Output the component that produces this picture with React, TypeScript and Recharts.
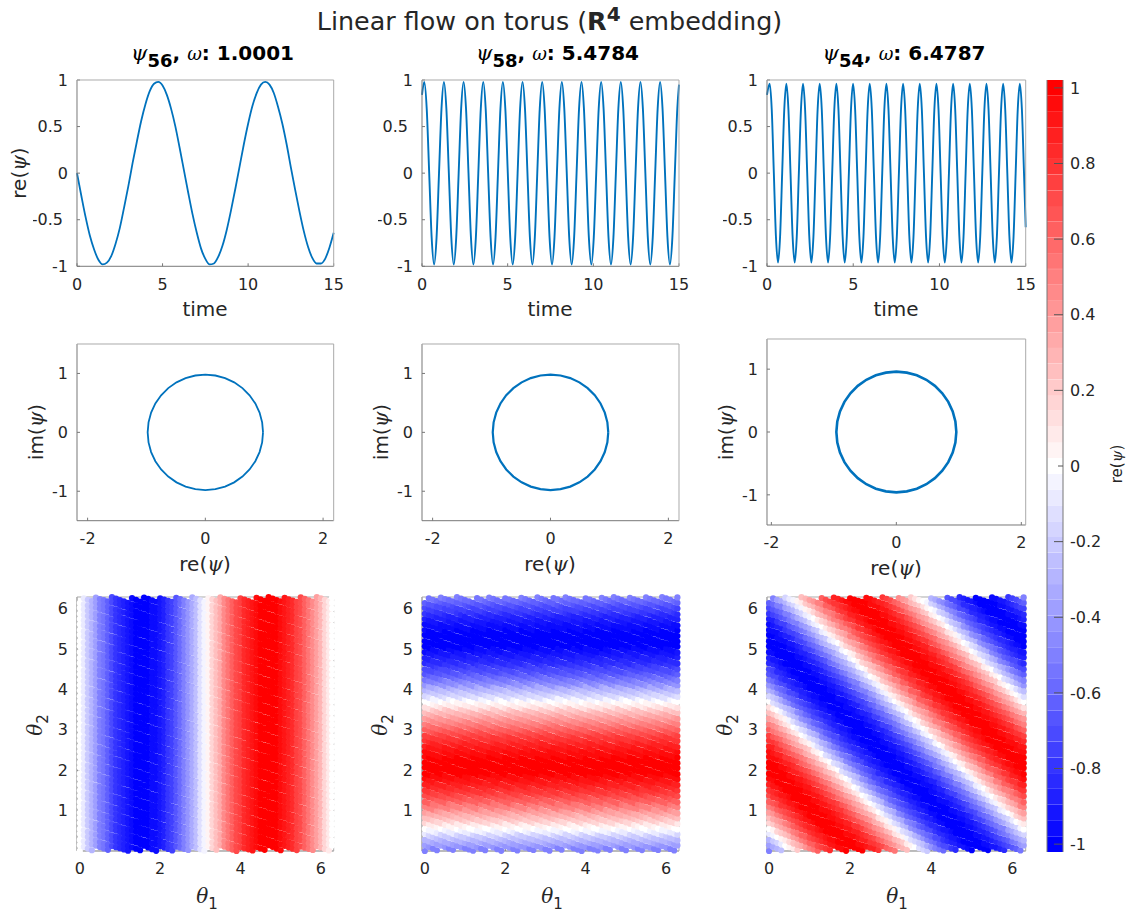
import React from "react";
import { LineChart, Line, ScatterChart, Scatter, ComposedChart, XAxis, YAxis, ReferenceArea } from "recharts";

// top row: time series
const time56 = [0, 0.25, 0.5, 0.75, 1, 1.25, 1.5, 1.75, 2, 2.25, 2.5, 2.75, 3, 3.25, 3.5, 3.75, 4, 4.25, 4.5, 4.75, 5, 5.25, 5.5, 5.75, 6, 6.25, 6.5, 6.75, 7, 7.25, 7.5, 7.75, 8, 8.25, 8.5, 8.75, 9, 9.25, 9.5, 9.75, 10, 10.25, 10.5, 10.75, 11, 11.25, 11.5, 11.75, 12, 12.25, 12.5, 12.75, 13, 13.25, 13.5, 13.75, 14, 14.25, 14.5, 14.75, 15];
const re56 = [0, -0.24, -0.47, -0.67, -0.82, -0.93, -0.98, -0.96, -0.89, -0.76, -0.59, -0.37, -0.14, 0.11, 0.34, 0.56, 0.74, 0.88, 0.96, 0.98, 0.94, 0.84, 0.69, 0.5, 0.27, 0.03, -0.21, -0.44, -0.64, -0.81, -0.92, -0.98, -0.97, -0.9, -0.78, -0.61, -0.4, -0.17, 0.07, 0.31, 0.53, 0.72, 0.86, 0.95, 0.98, 0.95, 0.86, 0.71, 0.53, 0.31, 0.06, -0.18, -0.41, -0.62, -0.79, -0.91, -0.97, -0.97, -0.92, -0.8, -0.64];

const time58 = [
  0, 0.133, 0.276, 0.42, 0.563, 0.707, 0.85, 0.993, 1.137,
  1.28, 1.423, 1.567, 1.71, 1.854, 1.997, 2.14, 2.284,
  2.427, 2.57, 2.714, 2.857, 3.001, 3.144, 3.287, 3.431,
  3.574, 3.717, 3.861, 4.004, 4.148, 4.291, 4.434, 4.578,
  4.721, 4.864, 5.008, 5.151, 5.295, 5.438, 5.581, 5.725,
  5.868, 6.011, 6.155, 6.298, 6.442, 6.585, 6.728, 6.872,
  7.015, 7.158, 7.302, 7.445, 7.589, 7.732, 7.875, 8.019,
  8.162, 8.305, 8.449, 8.592, 8.736, 8.879, 9.022, 9.166,
  9.309, 9.452, 9.596, 9.739, 9.883, 10.026, 10.169, 10.313,
  10.456, 10.599, 10.743, 10.886, 11.03, 11.173, 11.316, 11.46,
  11.603, 11.746, 11.89, 12.033, 12.177, 12.32, 12.463, 12.607,
  12.75, 12.893, 13.037, 13.18, 13.324, 13.467, 13.61, 13.754,
  13.897, 14.04, 14.184, 14.327, 14.471, 14.614, 14.757, 14.901, 15,
];
const re58 = [
  0.84, 0.98, 0.69, 0, -0.69, -0.98, -0.69, 0, 0.69,
  0.98, 0.69, 0, -0.69, -0.98, -0.69, 0, 0.69,
  0.98, 0.69, 0, -0.69, -0.98, -0.69, 0, 0.69,
  0.98, 0.69, 0, -0.69, -0.98, -0.69, 0, 0.69,
  0.98, 0.69, 0, -0.69, -0.98, -0.69, 0, 0.69,
  0.98, 0.69, 0, -0.69, -0.98, -0.69, 0, 0.69,
  0.98, 0.69, 0, -0.69, -0.98, -0.69, 0, 0.69,
  0.98, 0.69, 0, -0.69, -0.98, -0.69, 0, 0.69,
  0.98, 0.69, 0, -0.69, -0.98, -0.69, 0, 0.69,
  0.98, 0.69, 0, -0.69, -0.98, -0.69, 0, 0.69,
  0.98, 0.69, 0, -0.69, -0.98, -0.69, 0, 0.69,
  0.98, 0.69, 0, -0.69, -0.98, -0.69, 0, 0.69,
  0.98, 0.69, 0, -0.69, -0.98, -0.69, 0, 0.69, 0.95,
];

const time54 = [
  0, 0.155, 0.276, 0.397, 0.518, 0.639, 0.759, 0.88, 1.001,
  1.122, 1.243, 1.364, 1.485, 1.606, 1.726, 1.847, 1.968,
  2.089, 2.21, 2.331, 2.452, 2.573, 2.693, 2.814, 2.935,
  3.056, 3.177, 3.298, 3.419, 3.54, 3.66, 3.781, 3.902,
  4.023, 4.144, 4.265, 4.386, 4.507, 4.627, 4.748, 4.869,
  4.99, 5.111, 5.232, 5.353, 5.474, 5.594, 5.715, 5.836,
  5.957, 6.078, 6.199, 6.32, 6.441, 6.561, 6.682, 6.803,
  6.924, 7.045, 7.166, 7.287, 7.408, 7.528, 7.649, 7.77,
  7.891, 8.012, 8.133, 8.254, 8.375, 8.495, 8.616, 8.737,
  8.858, 8.979, 9.1, 9.221, 9.342, 9.462, 9.583, 9.704,
  9.825, 9.946, 10.067, 10.188, 10.309, 10.429, 10.55, 10.671,
  10.792, 10.913, 11.034, 11.155, 11.276, 11.396, 11.517, 11.638,
  11.759, 11.88, 12.001, 12.122, 12.243, 12.363, 12.484, 12.605,
  12.726, 12.847, 12.968, 13.089, 13.21, 13.33, 13.451, 13.572,
  13.693, 13.814, 13.935, 14.056, 14.177, 14.297, 14.418, 14.539,
  14.66, 14.781, 14.902, 15,
];
const re54 = [
  0.84, 0.96, 0.68, 0, -0.68, -0.96, -0.68, 0, 0.68,
  0.96, 0.68, 0, -0.68, -0.96, -0.68, 0, 0.68,
  0.96, 0.68, 0, -0.68, -0.96, -0.68, 0, 0.68,
  0.96, 0.68, 0, -0.68, -0.96, -0.68, 0, 0.68,
  0.96, 0.68, 0, -0.68, -0.96, -0.68, 0, 0.68,
  0.96, 0.68, 0, -0.68, -0.96, -0.68, 0, 0.68,
  0.96, 0.68, 0, -0.68, -0.96, -0.68, 0, 0.68,
  0.96, 0.68, 0, -0.68, -0.96, -0.68, 0, 0.68,
  0.96, 0.68, 0, -0.68, -0.96, -0.68, 0, 0.68,
  0.96, 0.68, 0, -0.68, -0.96, -0.68, 0, 0.68,
  0.96, 0.68, 0, -0.68, -0.96, -0.68, 0, 0.68,
  0.96, 0.68, 0, -0.68, -0.96, -0.68, 0, 0.68,
  0.96, 0.68, 0, -0.68, -0.96, -0.68, 0, 0.68,
  0.96, 0.68, 0, -0.68, -0.96, -0.68, 0, 0.68,
  0.96, 0.68, 0, -0.68, -0.96, -0.68, 0, 0.68,
  0.96, 0.68, 0, -0.58,
];

// middle row: closed loops
const loopRe98 = [0.98, 0.965, 0.921, 0.849, 0.751, 0.63, 0.49, 0.335, 0.17, 0, -0.17, -0.335, -0.49, -0.63, -0.751, -0.849, -0.921, -0.965, -0.98, -0.965, -0.921, -0.849, -0.751, -0.63, -0.49, -0.335, -0.17, 0, 0.17, 0.335, 0.49, 0.63, 0.751, 0.849, 0.921, 0.965, 0.98];
const loopIm98 = [0, 0.17, 0.335, 0.49, 0.63, 0.751, 0.849, 0.921, 0.965, 0.98, 0.965, 0.921, 0.849, 0.751, 0.63, 0.49, 0.335, 0.17, 0, -0.17, -0.335, -0.49, -0.63, -0.751, -0.849, -0.921, -0.965, -0.98, -0.965, -0.921, -0.849, -0.751, -0.63, -0.49, -0.335, -0.17, 0];
const loopRe96 = [0.96, 0.945, 0.902, 0.831, 0.735, 0.617, 0.48, 0.328, 0.167, 0, -0.167, -0.328, -0.48, -0.617, -0.735, -0.831, -0.902, -0.945, -0.96, -0.945, -0.902, -0.831, -0.735, -0.617, -0.48, -0.328, -0.167, 0, 0.167, 0.328, 0.48, 0.617, 0.735, 0.831, 0.902, 0.945, 0.96];
const loopIm96 = [0, 0.167, 0.328, 0.48, 0.617, 0.735, 0.831, 0.902, 0.945, 0.96, 0.945, 0.902, 0.831, 0.735, 0.617, 0.48, 0.328, 0.167, 0, -0.167, -0.328, -0.48, -0.617, -0.735, -0.831, -0.902, -0.945, -0.96, -0.945, -0.902, -0.831, -0.735, -0.617, -0.48, -0.328, -0.167, 0];

// bottom row: sample lattice on the torus and the colour profiles read along it
const theta1Samples = [0, 0.1, 0.2, 0.3, 0.4, 0.5, 0.6, 0.7, 0.8, 0.9, 1, 1.1, 1.2, 1.3, 1.4, 1.5, 1.6, 1.7, 1.8, 1.9, 2, 2.1, 2.2, 2.3, 2.4, 2.5, 2.6, 2.7, 2.8, 2.9, 3, 3.1, 3.2, 3.3, 3.4, 3.5, 3.6, 3.7, 3.8, 3.9, 4, 4.1, 4.2, 4.3, 4.4, 4.5, 4.6, 4.7, 4.8, 4.9, 5, 5.1, 5.2, 5.3, 5.4, 5.5, 5.6, 5.7, 5.8, 5.9, 6, 6.1, 6.2, 6.28];
const theta2Samples = [0, 0.137, 0.273, 0.41, 0.546, 0.683, 0.82, 0.956, 1.093, 1.229, 1.366, 1.503, 1.639, 1.776, 1.912, 2.049, 2.185, 2.322, 2.459, 2.595, 2.732, 2.868, 3.005, 3.142, 3.278, 3.415, 3.551, 3.688, 3.825, 3.961, 4.098, 4.234, 4.371, 4.508, 4.644, 4.781, 4.917, 5.054, 5.19, 5.327, 5.464, 5.6, 5.737, 5.873, 6.01, 6.147];
const rowDrop = 0.35; // the dotted rows fall this much in theta2 per unit of theta1
const rowWobble = [0, 0.008, 0.014, 0.016, 0.014, 0.008, 0, -0.008, -0.014, -0.016, -0.014, -0.008]; // uneven row gaps, gives the short white slashes
const columnProfile = [0, -0.1, -0.2, -0.3, -0.39, -0.48, -0.56, -0.64, -0.72, -0.78, -0.84, -0.89, -0.93, -0.96, -0.99, -1, -1, -0.99, -0.97, -0.95, -0.91, -0.86, -0.81, -0.75, -0.68, -0.6, -0.52, -0.43, -0.33, -0.24, -0.14, -0.04, 0.06, 0.16, 0.26, 0.35, 0.44, 0.53, 0.61, 0.69, 0.76, 0.82, 0.87, 0.92, 0.95, 0.98, 0.99, 1, 1, 0.98, 0.96, 0.93, 0.88, 0.83, 0.77, 0.71, 0.63, 0.55, 0.46, 0.37, 0.28, 0.18, 0.08, 0];
const bandProfile = [-0.52, -0.48, -0.43, -0.39, -0.34, -0.3, -0.25, -0.2, -0.15, -0.1, -0.05, 0, 0.05, 0.1, 0.15, 0.2, 0.25, 0.3, 0.34, 0.39, 0.43, 0.48, 0.52, 0.56, 0.61, 0.64, 0.68, 0.72, 0.75, 0.78, 0.81, 0.84, 0.87, 0.89, 0.91, 0.93, 0.95, 0.96, 0.98, 0.99, 0.99, 1, 1, 1, 1, 0.99, 0.98, 0.97, 0.96, 0.95, 0.93, 0.91, 0.89, 0.86, 0.84, 0.81, 0.78, 0.75, 0.71, 0.68, 0.64, 0.6, 0.56, 0.52, 0.47, 0.43, 0.38, 0.33, 0.29, 0.24, 0.19, 0.14, 0.09, 0.04, -0.01, -0.06, -0.11, -0.16, -0.21, -0.26, -0.3, -0.35, -0.4, -0.44, -0.49, -0.53, -0.57, -0.61, -0.65, -0.69, -0.72, -0.76, -0.79, -0.82, -0.85, -0.87, -0.89, -0.92, -0.93, -0.95, -0.97, -0.98, -0.99, -0.99, -1, -1, -1, -1, -0.99, -0.98, -0.97, -0.96, -0.94, -0.93, -0.91, -0.88, -0.86, -0.83, -0.8, -0.77, -0.74, -0.71, -0.67, -0.63, -0.59, -0.55];

// colour bar
const colorLevels = [-1, -0.958, -0.917, -0.875, -0.833, -0.792, -0.75, -0.708, -0.667, -0.625, -0.583, -0.542, -0.5, -0.458, -0.417, -0.375, -0.333, -0.292, -0.25, -0.208, -0.167, -0.125, -0.083, -0.042, 0, 0.042, 0.083, 0.125, 0.167, 0.208, 0.25, 0.292, 0.333, 0.375, 0.417, 0.458, 0.5, 0.542, 0.583, 0.625, 0.667, 0.708, 0.75, 0.792, 0.833, 0.875, 0.917, 0.958, 1];
const colorTicks = [-1, -0.8, -0.6, -0.4, -0.2, 0, 0.2, 0.4, 0.6, 0.8, 1];

const timeTicks = [0, 5, 10, 15];
const reTicks = [-1, -0.5, 0, 0.5, 1];
const loopXTicks = [-2, 0, 2];
const loopYTicks = [-1, 0, 1];
const theta1Ticks = [0, 2, 4, 6];
const theta2Ticks = [1, 2, 3, 4, 5, 6];

const BLUE = "#0072BD";
const INK = "#262626";
const FONT = "'DejaVu Sans', sans-serif";
const MATH = "'DejaVu Serif', serif";
const TWO_PI = 6.2832;

const levelColor = (v: number) => {
  const q = Math.round(v * 24) / 24;
  const c = Math.round(255 * (1 - Math.abs(q)));
  return q >= 0 ? `rgb(255,${c},${c})` : `rgb(${c},${c},255)`;
};

const series = (xs: number[], ys: number[]) => xs.map((x, i) => ({ x, y: ys[i] }));

const latticeWith = (valueAt: (i: number, theta1: number, theta2: number) => number) =>
  theta1Samples.flatMap((theta1, i) =>
    theta2Samples.map((row, j) => {
      const wobble = j % 2 ? rowWobble[(i + j * 5) % rowWobble.length] : 0;
      let theta2 = row + wobble - rowDrop * theta1;
      if (theta2 < 0) theta2 += TWO_PI;
      return { x: theta1, y: theta2, v: valueAt(i, theta1, theta2) };
    })
  );
const bandAt = (theta: number) => {
  const n = bandProfile.length;
  return bandProfile[Math.round(((theta % TWO_PI) / TWO_PI) * n) % n];
};

const data56 = series(time56, re56);
const data58 = series(time58, re58);
const data54 = series(time54, re54);
const loop98 = series(loopRe98, loopIm98);
const loop96 = series(loopRe96, loopIm96);
const field56 = latticeWith((i) => columnProfile[i]);
const field58 = latticeWith((_i, _a, b) => bandAt(b));
const field54 = latticeWith((_i, a, b) => bandAt(a + b));

const PAD = { left: 44, top: 12, right: 12, bottom: 32 };
const tickStyle = { fontSize: 16, fill: INK, fontFamily: FONT };

type Box = { left: number; top: number; w: number; h: number };

const chartProps = (b: Box) => ({
  width: b.w + PAD.left + PAD.right,
  height: b.h + PAD.top + PAD.bottom,
  margin: { top: PAD.top - 1, right: PAD.right - 1, bottom: 0, left: 0 },
});
const place = (b: Box): React.CSSProperties => ({ position: "absolute", left: b.left - PAD.left, top: b.top - PAD.top });

// fractional labels sit a little further from the axis in the reference
const YTick = (p: any) => (
  <text x={Number.isInteger(p.payload.value) ? p.x : p.x - 5} y={p.y} dy="0.36em" textAnchor="end" {...tickStyle}>
    {p.payload.value}
  </text>
);

// MATLAB style box: labelled axes bottom/left, bare ones top/right, ticks pointing in
const boxAxes = (xd: number[], yd: number[], xt: number[], yt: number[]) => [
  <XAxis key="b" xAxisId="b" dataKey="x" type="number" domain={xd} ticks={xt} interval={0} height={PAD.bottom} tickSize={-3} tickMargin={15} tick={tickStyle} stroke="#777" />,
  <YAxis key="l" yAxisId="l" dataKey="y" type="number" domain={yd} ticks={yt} interval={0} width={PAD.left} tickSize={-3} tickMargin={12} tick={YTick} stroke="#777" />,
  <XAxis key="t" xAxisId="t" dataKey="x" orientation="top" type="number" domain={xd} ticks={xt} interval={0} height={1} tickSize={-3} tick={false} stroke="#aaa" />,
  <YAxis key="r" yAxisId="r" dataKey="y" orientation="right" type="number" domain={yd} ticks={yt} interval={0} width={1} tickSize={-3} tick={false} stroke="#aaa" />,
];

function TracePanel({ box, data, xd, yd, xt, yt, sw, curve }: any) {
  return (
    <div style={place(box)}>
      <LineChart {...chartProps(box)} data={data}>
        {boxAxes(xd, yd, xt, yt)}
        <Line xAxisId="t" yAxisId="r" dataKey="y" type="linear" stroke="none" dot={false} isAnimationActive={false} />
        <Line xAxisId="b" yAxisId="l" dataKey="y" type={curve} stroke={BLUE} strokeWidth={sw} dot={false} isAnimationActive={false} />
      </LineChart>
    </div>
  );
}

const dotShape = (p: any) => <circle cx={p.cx} cy={p.cy} r={3.1} fill={levelColor(p.payload.v)} />;

function FieldPanel({ box, data, xd }: any) {
  return (
    <div style={place(box)}>
      <ScatterChart {...chartProps(box)}>
        {boxAxes(xd, [0, 6.27], theta1Ticks, theta2Ticks)}
        <Scatter xAxisId="b" yAxisId="l" data={data} dataKey="y" shape={dotShape} isAnimationActive={false} />
      </ScatterChart>
    </div>
  );
}

function ColorBar() {
  const top = 79.5;
  const h = 772;
  return (
    <div style={{ position: "absolute", left: 1046, top: top - 5 }}>
      <ComposedChart width={66} height={h + 10} margin={{ top: 5, right: 48, bottom: 5, left: 0 }} data={[{ x: 0.5, y: 0 }]}>
        <XAxis xAxisId="b" dataKey="x" type="number" domain={[0, 1]} hide />
        <YAxis yAxisId="l" dataKey="y" type="number" domain={[-1.0208, 1.0208]} width={1} tick={false} tickLine={false} stroke="#777" />
        <YAxis yAxisId="c" dataKey="y" orientation="right" type="number" domain={[-1.0208, 1.0208]} ticks={colorTicks} interval={0} width={1} tickSize={-9} tickMargin={16} tick={tickStyle} tickLine={{ stroke: "#555" }} stroke="#777" />
        <Line xAxisId="b" yAxisId="c" dataKey="y" stroke="none" dot={false} isAnimationActive={false} />
        <Line xAxisId="b" yAxisId="l" dataKey="y" stroke="none" dot={false} isAnimationActive={false} />
        {colorLevels.map((v) => (
          <ReferenceArea key={v} xAxisId="b" yAxisId="c" y1={v - 0.0208} y2={v + 0.0208} fill={levelColor(v)} fillOpacity={1} stroke="none" ifOverflow="visible" />
        ))}
      </ComposedChart>
    </div>
  );
}

const Psi = () => <tspan fontFamily={MATH} fontStyle="italic">ψ</tspan>;

function Heading({ x, id, omega }: { x: number; id: string; omega: string }) {
  return (
    <text x={x} y={60} textAnchor="middle" fontFamily={FONT} fontWeight="bold" fontSize={20} fill="#000">
      <tspan fontFamily={MATH} fontStyle="italic" fontWeight="normal" fontSize={21}>ψ</tspan>
      <tspan dy={7} fontSize={18}>{id}</tspan>
      <tspan dy={-7}>, </tspan>
      <tspan fontFamily={MATH} fontStyle="italic" fontWeight="normal" fontSize={18}>ω</tspan>
      <tspan>: {omega}</tspan>
    </text>
  );
}

function AxisText({ x, y, up, children, size = 20 }: any) {
  return (
    <text x={x} y={y} textAnchor="middle" fontFamily={FONT} fontSize={size} fill={INK} transform={up ? `rotate(-90 ${x} ${y})` : undefined}>
      {children}
    </text>
  );
}

const Theta = ({ n }: { n: number }) => (
  <>
    <tspan fontFamily={MATH} fontStyle="italic">θ</tspan>
    <tspan dy={6} fontSize={15}>{n}</tspan>
  </>
);

const col1 = { left: 77.3, w: 256.7 };
const col2 = { left: 422.3, w: 257 };
const col3 = { left: 767.3, w: 258.7 };

export default function App() {
  const row1 = { top: 80, h: 186.3 };
  const row2 = { top: 344.3, h: 176.7 };
  const row2c = { top: 339, h: 186 };
  const row3 = { top: 597, h: 254 };
  return (
    <div style={{ position: "absolute", left: 0, top: 0, width: 1126, height: 916, background: "#fff", overflow: "hidden" }}>
      <TracePanel box={{ ...col1, ...row1 }} data={data56} xd={[0, 15]} yd={[-1, 1]} xt={timeTicks} yt={reTicks} sw={1.8} curve="monotoneX" />
      <TracePanel box={{ ...col2, ...row1 }} data={data58} xd={[0, 15]} yd={[-1, 1]} xt={timeTicks} yt={reTicks} sw={1.9} curve="monotoneX" />
      <TracePanel box={{ ...col3, ...row1 }} data={data54} xd={[0, 15]} yd={[-1, 1]} xt={timeTicks} yt={reTicks} sw={1.9} curve="monotoneX" />

      <TracePanel box={{ ...col1, ...row2 }} data={loop98} xd={[-2.18, 2.18]} yd={[-1.5, 1.5]} xt={loopXTicks} yt={loopYTicks} sw={1.8} curve="linear" />
      <TracePanel box={{ ...col2, ...row2 }} data={loop98} xd={[-2.18, 2.18]} yd={[-1.5, 1.5]} xt={loopXTicks} yt={loopYTicks} sw={2.2} curve="linear" />
      <TracePanel box={{ ...col3, ...row2c }} data={loop96} xd={[-2.07, 2.07]} yd={[-1.48, 1.48]} xt={loopXTicks} yt={loopYTicks} sw={2.6} curve="linear" />

      <FieldPanel box={{ ...col1, ...row3 }} data={field56} xd={[-0.07, 6.32]} />
      <FieldPanel box={{ ...col2, ...row3 }} data={field58} xd={[-0.07, 6.32]} />
      <FieldPanel box={{ ...col3, ...row3 }} data={field54} xd={[-0.05, 6.33]} />

      <ColorBar />

      <svg width={1126} height={916} style={{ position: "absolute", left: 0, top: 0, pointerEvents: "none" }}>
        <text x={549.5} y={30} textAnchor="middle" fontFamily={FONT} fontSize={25.4} fill={INK}>
          Linear flow on torus (<tspan fontWeight="bold">R</tspan>
          <tspan dy={-9} fontSize={20} fontWeight="bold">4</tspan>
          <tspan dy={9}> embedding)</tspan>
        </text>
        <Heading x={212.5} id="56" omega="1.0001" />
        <Heading x={557.5} id="58" omega="5.4784" />
        <Heading x={904} id="54" omega="6.4787" />

        <AxisText x={26} y={173} up>re(<Psi />)</AxisText>
        <AxisText x={205} y={316}>time</AxisText>
        <AxisText x={550} y={316}>time</AxisText>
        <AxisText x={896} y={316}>time</AxisText>

        <AxisText x={43} y={432} up>im(<Psi />)</AxisText>
        <AxisText x={388} y={432} up>im(<Psi />)</AxisText>
        <AxisText x={733} y={432} up>im(<Psi />)</AxisText>
        <AxisText x={205} y={571}>re(<Psi />)</AxisText>
        <AxisText x={550} y={571}>re(<Psi />)</AxisText>
        <AxisText x={896} y={575}>re(<Psi />)</AxisText>

        <AxisText x={42} y={725} up><Theta n={2} /></AxisText>
        <AxisText x={387} y={725} up><Theta n={2} /></AxisText>
        <AxisText x={732} y={725} up><Theta n={2} /></AxisText>
        <AxisText x={207} y={903}><Theta n={1} /></AxisText>
        <AxisText x={552} y={903}><Theta n={1} /></AxisText>
        <AxisText x={897} y={903}><Theta n={1} /></AxisText>

        <AxisText x={1122} y={464} up size={15}>re(<Psi />)</AxisText>
      </svg>
    </div>
  );
}
